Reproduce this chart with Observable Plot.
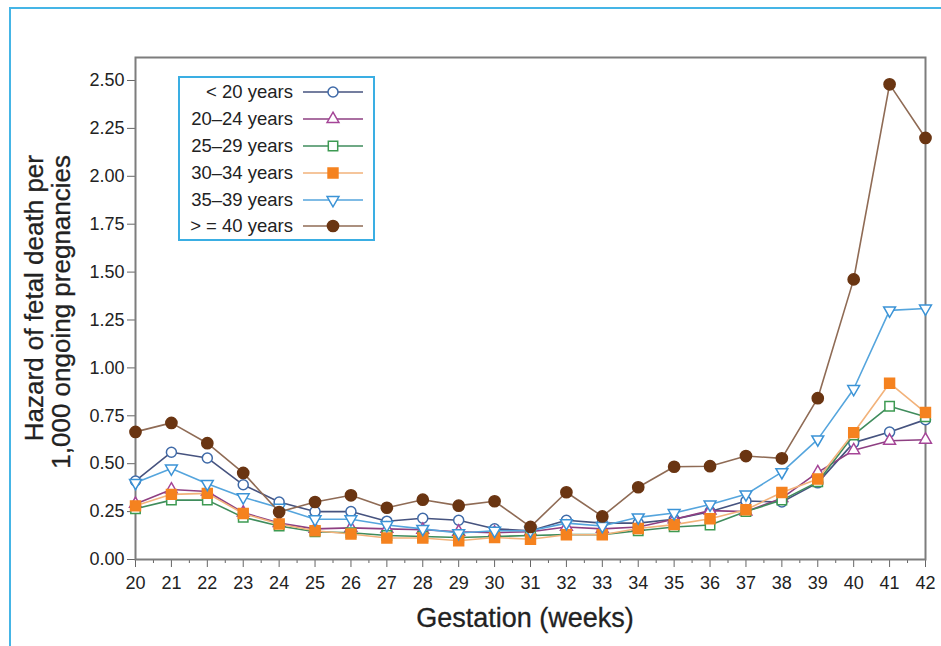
<!DOCTYPE html>
<html><head><meta charset="utf-8">
<script src="https://cdn.jsdelivr.net/npm/d3@7"></script>
<script src="https://cdn.jsdelivr.net/npm/@observablehq/plot@0.6"></script>
<style>
body{margin:0;background:#fff;}
#wrap{position:relative;width:941px;height:646px;overflow:hidden;font-family:"Liberation Sans",Arial,sans-serif;color:#222;}
#border{position:absolute;left:9px;top:7px;width:960px;height:700px;border-left:2px solid #45b5e6;border-top:2px solid #45b5e6;}
#chart{position:absolute;left:0;top:0;}
#ytitle{position:absolute;left:21px;top:490px;width:335px;transform-origin:0 0;transform:rotate(-90deg);text-align:right;font-size:26px;line-height:27px;white-space:nowrap;-webkit-text-stroke:0.3px #222;}
#xtitle{position:absolute;left:325px;width:400px;top:603px;text-align:center;font-size:27px;line-height:30px;-webkit-text-stroke:0.3px #222;}
#legend{position:absolute;left:178px;top:76px;width:193px;height:161px;border:2px solid #3aaee3;background:#fff;}
</style>
</head><body>
<div id="wrap">
<div id="border"></div>
<div id="chart"></div>
<div id="ytitle">Hazard of fetal death per<br>1,000 ongoing pregnancies</div>
<div id="xtitle">Gestation (weeks)</div>
<div id="legend"></div>
</div>
<script>
const weeks = [20,21,22,23,24,25,26,27,28,29,30,31,32,33,34,35,36,37,38,39,40,41,42];
const series = ["< 20 years","20–24 years","25–29 years","30–34 years","35–39 years","> = 40 years"];
const under20 = [0.41,0.56,0.53,0.39,0.30,0.25,0.25,0.20,0.215,0.205,0.16,0.15,0.205,0.19,0.19,0.21,0.25,0.305,0.30,0.40,0.61,0.665,0.73];
const age20_24 = [0.29,0.365,0.355,0.245,0.19,0.16,0.165,0.16,0.155,0.145,0.14,0.145,0.17,0.16,0.17,0.21,0.255,0.25,0.32,0.455,0.57,0.62,0.625];
const age25_29 = [0.265,0.31,0.31,0.22,0.175,0.145,0.14,0.125,0.12,0.115,0.12,0.125,0.13,0.13,0.15,0.17,0.18,0.25,0.31,0.405,0.65,0.80,0.745];
const age30_34 = [0.28,0.34,0.345,0.24,0.185,0.15,0.133,0.112,0.112,0.098,0.115,0.106,0.129,0.129,0.162,0.182,0.213,0.26,0.35,0.42,0.662,0.92,0.767];
const age35_39 = [0.40,0.475,0.395,0.325,0.27,0.21,0.21,0.18,0.16,0.138,0.15,0.15,0.19,0.175,0.22,0.243,0.287,0.34,0.456,0.627,0.89,1.30,1.31];
const age40plus = [0.666,0.713,0.607,0.452,0.248,0.30,0.335,0.27,0.312,0.281,0.304,0.17,0.351,0.225,0.377,0.484,0.487,0.54,0.528,0.842,1.462,2.48,2.20];
const values = [under20, age20_24, age25_29, age30_34, age35_39, age40plus];
const yTicks = [0,0.25,0.5,0.75,1,1.25,1.5,1.75,2,2.25,2.5];
const xTicks = weeks;
const xMinorTicks = weeks.slice(0,-1).map(w => w + 0.5);

const lineColors = ["#46537f","#8e3f82","#3f8c5c","#f2b27a","#55a5dd","#8f6b55"];
const markStroke = ["#3f6aa8","#a54597","#3d9a52","#f5821f","#3b93d6","#6a3512"];
const markFill = ["#fff","#fff","#fff","#f5821f","#fff","#6a3512"];
const symbols = ["circle","triangle","square","square","triangle","circle"];
const rotations = [0,0,0,0,180,0];
const radii = [5,4.4,5.3,5.6,4.4,5.6];

const rows = [];
series.forEach((s,i) => values[i].forEach((v,j) => rows.push({week: weeks[j], value: v, series: s})));

const marks = [
  Plot.axisX({ticks: xMinorTicks, tickSize: 4, tickFormat: () => "", label: null, stroke: "#666"}),
  Plot.axisX({ticks: xTicks, tickSize: 8, tickPadding: 9, tickFormat: d => String(d), label: null, stroke: "#666", fontSize: 18}),
  Plot.axisY({ticks: yTicks, tickSize: 8, tickPadding: 3, tickFormat: d => d.toFixed(2), label: null, stroke: "#666", fontSize: 18}),
  Plot.frame({stroke: "#7d7d7d", strokeWidth: 2})
];
series.forEach((s,i) => {
  const data = rows.filter(d => d.series === s);
  marks.push(Plot.line(data, {x: "week", y: "value", stroke: lineColors[i], strokeWidth: 1.6}));
  marks.push(Plot.dot(data, {x: "week", y: "value", symbol: symbols[i], r: radii[i], stroke: markStroke[i], fill: markFill[i], strokeWidth: 1.5, rotate: rotations[i]}));
});

const chart = Plot.plot({
  width: 941, height: 646,
  marginLeft: 135, marginRight: 16, marginTop: 57, marginBottom: 87,
  x: {domain: [20, 42], type: "linear"},
  y: {domain: [0, 2.62]},
  style: {fontFamily: "Liberation Sans, Arial, sans-serif", fontSize: "18px", color: "#222", background: "transparent"},
  marks
});
document.getElementById("chart").appendChild(chart);

// legend
const lg = d3.select("#legend").append("svg").attr("width", 193).attr("height", 161);
const rowY = [14, 41, 68, 95, 122, 148];
series.forEach((s,i) => {
  const g = lg.append("g").attr("transform", `translate(0,${rowY[i]})`);
  g.append("text").attr("x", 113).attr("y", 0).attr("dy", "0.35em").attr("text-anchor", "end")
    .attr("font-size", 18.5).attr("fill", "#222").text(s);
  g.append("line").attr("x1", 123).attr("x2", 183).attr("y1", 0).attr("y2", 0)
    .attr("stroke", lineColors[i]).attr("stroke-width", 1.6);
  const sym = symbols[i] === "circle" ? d3.symbolCircle : symbols[i] === "square" ? d3.symbolSquare : d3.symbolTriangle;
  g.append("path").attr("d", d3.symbol(sym, Math.PI * radii[i] * radii[i])())
    .attr("transform", `translate(153,0) rotate(${rotations[i]})`)
    .attr("fill", markFill[i]).attr("stroke", markStroke[i]).attr("stroke-width", 1.5);
});
</script>
</body></html>
